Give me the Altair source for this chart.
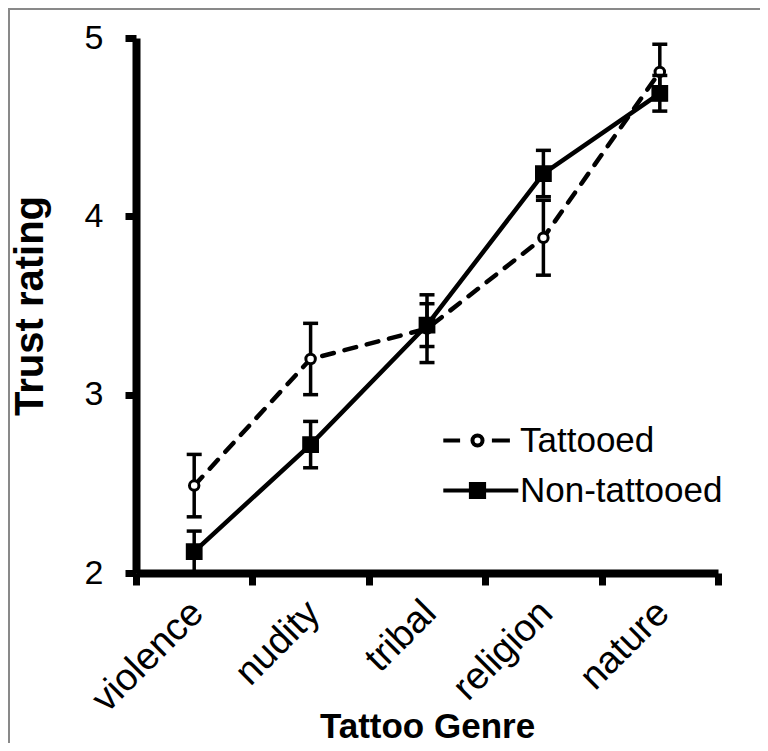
import json
import altair as alt
import pandas as pd

# ---- data ----
genres = ["violence", "nudity", "tribal", "religion", "nature"]
series_names = ["Tattooed", "Non-tattooed"]
tattooed_mean = [2.49, 3.20, 3.37, 3.88, 4.81]
tattooed_err = [0.175, 0.20, 0.19, 0.21, 0.155]
non_mean = [2.12, 2.72, 3.39, 4.24, 4.69]
non_err = [0.115, 0.13, 0.12, 0.13, 0.10]
y_ticks = [2, 3, 4, 5]

FONT = "Liberation Sans"
W, H = 582, 535
PAD = {"left": 128, "top": 30, "right": 42, "bottom": 170}


def make_df(mean, err, name):
    return pd.DataFrame({
        "genre": genres,
        "pos": [i + 0.5 for i in range(len(genres))],
        "mean": mean,
        "lo": [m - e for m, e in zip(mean, err)],
        "hi": [m + e for m, e in zip(mean, err)],
        "series": name,
    })


df_t = make_df(tattooed_mean, tattooed_err, series_names[0])
df_n = make_df(non_mean, non_err, series_names[1])

n = len(genres)
x_vals = [i / 2 for i in range(2 * n + 1)]
label_expr = ("datum.value % 1 == 0.5 ? " + json.dumps(genres) +
              "[floor(datum.value)] : ''")

x_axis = alt.Axis(
    values=x_vals, labelExpr=label_expr, title="Tattoo Genre",
    grid=False, domainColor="black", domainWidth=8,
    tickColor="black", tickWidth=7, tickSize=12,
    tickOpacity={"condition": {"test": "datum.value % 1 != 0", "value": 0}, "value": 1},
    labelAngle=315, labelAlign="right", labelBaseline="middle",
    labelFont=FONT, labelFontSize=38, labelColor="black", labelPadding=22,
    labelOffset=3, labelFlush=False, labelOverlap=False,
    titleFont=FONT, titleFontSize=35, titleFontWeight="bold", titleColor="black",
    titleY=164, titleBaseline="alphabetic",
)
y_axis = alt.Axis(
    values=y_ticks, title="Trust rating", grid=False,
    domainColor="black", domainWidth=8,
    tickColor="black", tickWidth=7, tickSize=11,
    labelFont=FONT, labelFontSize=34, labelColor="black", labelPadding=22,
    titleFont=FONT, titleFontSize=40, titleFontWeight="bold", titleColor="black",
    titleX=-94, titleBaseline="alphabetic",
)
x_scale = alt.Scale(domain=[0, n], nice=False, zero=False)
y_scale = alt.Scale(domain=[2, 5], nice=False, zero=False)


def X():
    return alt.X("pos:Q", scale=x_scale, axis=x_axis)


def Y(field):
    return alt.Y(f"{field}:Q", scale=y_scale, axis=y_axis)


def series_layers(df, dash, shape, fill, size):
    base = alt.Chart(df)
    line_kw = dict(color="black", strokeWidth=4.5)
    if dash:
        line_kw.update(strokeDash=dash, strokeCap="round")
    line = base.mark_line(**line_kw).encode(x=X(), y=Y("mean"))
    rule = base.mark_rule(color="black", strokeWidth=3.5).encode(
        x=X(), y=Y("lo"), y2="hi")
    cap_lo = base.mark_tick(color="black", orient="horizontal", size=15,
                            thickness=3.5, opacity=1).encode(x=X(), y=Y("lo"))
    cap_hi = base.mark_tick(color="black", orient="horizontal", size=15,
                            thickness=3.5, opacity=1).encode(x=X(), y=Y("hi"))
    pts = base.mark_point(shape=shape, filled=True, fill=fill, stroke="black",
                          strokeWidth=3, size=size, opacity=1).encode(x=X(), y=Y("mean"))
    return [line, rule, cap_lo, cap_hi, pts]


# legend symbols (unit = 12 px): line with marker
sym_t = ("M-2.85,0H-1.45M1.2,0H2.7"
         "M-0.42,0A0.42,0.42 0 1,0 0.42,0A0.42,0.42 0 1,0 -0.42,0Z")
sym_n = "M-2.85,0H-0.55M0.55,0H3.4M-0.55,-0.55H0.55V0.55H-0.55Z"

legend_kw = dict(
    title=None, orient="none", legendX=324, legendY=385,
    labelFont=FONT, labelFontSize=35, labelColor="black", labelLimit=400,
    symbolSize=576, symbolStrokeWidth=4, symbolStrokeColor="black",
    symbolOpacity=1, labelOffset=25, rowPadding=14,
)
legend_df = pd.DataFrame({"series": series_names, "pos": [0.5, 0.5], "mean": [3.0, 3.0]})
legend_layer = alt.Chart(legend_df).mark_point(
    filled=True, strokeWidth=4, opacity=1
).encode(
    x=X(), y=Y("mean"),
    shape=alt.Shape("series:N", scale=alt.Scale(domain=series_names, range=[sym_t, sym_n]),
                    legend=alt.Legend(**legend_kw)),
    fill=alt.Fill("series:N", scale=alt.Scale(domain=series_names, range=["white", "black"]),
                  legend=alt.Legend(**legend_kw)),
    stroke=alt.Stroke("series:N", scale=alt.Scale(domain=series_names, range=["black", "black"]),
                      legend=alt.Legend(**legend_kw)),
).transform_filter("false")

frame = alt.Chart(pd.DataFrame({"a": [0]})).mark_rect(
    fill="transparent", stroke="#898989", strokeWidth=2
).encode(
    x=alt.value(-PAD["left"] + 1), y=alt.value(-PAD["top"] + 1),
    x2=alt.value(W + 200), y2=alt.value(H + 300),
)

layers = ([frame] + series_layers(df_t, [12, 11], "circle", "white", 90)
          + series_layers(df_n, None, "square", "black", 190) + [legend_layer])

chart = alt.layer(*layers).properties(
    width=W, height=H, autosize="none", padding=PAD, background="white",
).configure_view(stroke=None)

chart.save("out.html", embed_options={"renderer": "svg", "actions": False})
